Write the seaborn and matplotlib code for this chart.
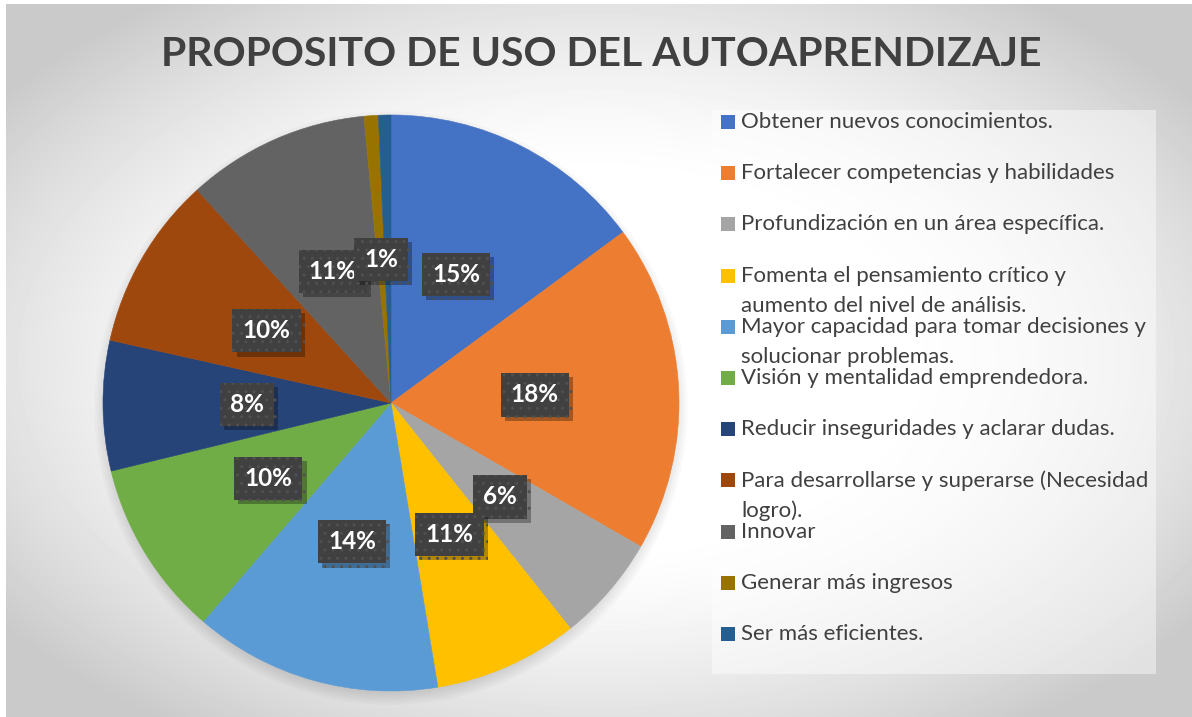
import numpy as np
import matplotlib
matplotlib.use("Agg")
import matplotlib.pyplot as plt
import matplotlib.patheffects as pe
from matplotlib.patches import Rectangle, Circle
import seaborn as sns

# ---- datos (porcentaje aproximado de cada sector) ----
categorias = [
    "Obtener nuevos conocimientos.",
    "Fortalecer competencias y habilidades",
    "Profundización en un área específica.",
    "Fomenta el pensamiento crítico y\naumento del nivel de análisis.",
    "Mayor capacidad para tomar decisiones y\nsolucionar problemas.",
    "Visión y mentalidad emprendedora.",
    "Reducir inseguridades y aclarar dudas.",
    "Para desarrollarse y superarse (Necesidad\nlogro).",
    "Innovar",
    "Generar más ingresos",
    "Ser más eficientes.",
]
valores = [14.9, 18.4, 6.0, 8.1, 13.9, 9.9, 7.3, 9.75, 10.25, 0.8, 0.7]
# la etiqueta del último sector queda oculta bajo la del penúltimo en el original
etiquetas = ["15%", "18%", "6%", "11%", "14%", "10%", "8%", "10%", "11%", "1%", ""]
colores = ["#4472C4", "#ED7D31", "#A5A5A5", "#FFC000", "#5B9BD5", "#70AD47",
           "#264478", "#9E480E", "#636363", "#997300", "#255E91"]
titulo = "PROPOSITO DE USO DEL AUTOAPRENDIZAJE"

sns.set_theme(style="white")
plt.rcParams["font.family"] = ["Lato", "DejaVu Sans"]

W, H = 1192, 717
fig = plt.figure(figsize=(W / 100, H / 100), dpi=100, facecolor="white")

# ---- fondo con degradado radial ----
ax_bg = fig.add_axes([6 / W, 0, 1 - 6 / W, 1 - 4 / H])
ax_bg.set_axis_off()
yy, xx = np.mgrid[0:H - 4, 0:W - 6]
d = np.sqrt(((xx - 590) / 593) ** 2 + ((yy - 356) / 356) ** 2)
v = 1 - 0.21 * np.clip((d - 0.5) / 0.75, 0, 1) ** 1.5
ax_bg.imshow(v, cmap="gray", vmin=0, vmax=1, aspect="auto", interpolation="bilinear")

# ---- título ----
fig.text(601 / W, 1 - 55 / H, titulo, ha="center", va="center",
         fontsize=29.5, fontweight="bold", color="#404040")

# ---- pastel ----
cx, cy, r = 391, 403, 288
ax = fig.add_axes([(cx - r * 1.05) / W, (H - cy - r * 1.05) / H, 2.1 * r / W, 2.1 * r / H])
ax.set_axis_off()

# sombra suave bajo el pastel
for k in range(6):
    ax.add_patch(Circle((0.0, -0.018), 0.99 + k * 0.008, color="black",
                        alpha=0.018, zorder=0, linewidth=0))

wedges, _ = ax.pie(valores, colors=sns.color_palette(colores), startangle=90,
                   counterclock=False, radius=1, wedgeprops=dict(linewidth=0.4))
for w in wedges:
    w.set_edgecolor(w.get_facecolor())
    w.set_zorder(1)
ax.set_xlim(-1.05, 1.05)
ax.set_ylim(-1.05, 1.05)

# etiquetas de porcentaje en el punto medio de cada sector
for w, lab in zip(wedges, etiquetas):
    if not lab:
        continue
    ang = np.deg2rad((w.theta1 + w.theta2) / 2)
    t = ax.text(0.5 * np.cos(ang), 0.5 * np.sin(ang), lab, ha="center", va="center",
                fontsize=17.5, fontweight="bold", color="white", zorder=5,
                bbox=dict(boxstyle="square,pad=0.42", facecolor="#404040",
                          edgecolor="#505050", linewidth=0, hatch=".."))
    t.get_bbox_patch().set_path_effects([
        pe.SimplePatchShadow(offset=(3, -3), shadow_rgbFace="black", alpha=0.3),
        pe.Normal()])

# ---- leyenda ----
lx0, ly0, lx1, ly1 = 712, 110, 1156, 674
ax_leg = fig.add_axes([lx0 / W, (H - ly1) / H, (lx1 - lx0) / W, (ly1 - ly0) / H])
ax_leg.set_xlim(0, lx1 - lx0)
ax_leg.set_ylim(ly1 - ly0, 0)
ax_leg.set_xticks([])
ax_leg.set_yticks([])
for s in ax_leg.spines.values():
    s.set_visible(False)
ax_leg.patch.set_facecolor("white")
ax_leg.patch.set_alpha(0.45)

for i, (cat, col) in enumerate(zip(categorias, colores)):
    y = 12 + i * 51.2
    ax_leg.add_patch(Rectangle((9, y - 7), 14, 14, color=col, linewidth=0))
    for k, linea in enumerate(cat.split("\n")):
        ax_leg.text(29, y + k * 30, linea, ha="left", va="center",
                    fontsize=16, color="#404040")

fig.savefig("out.png", dpi=100, facecolor="white")
